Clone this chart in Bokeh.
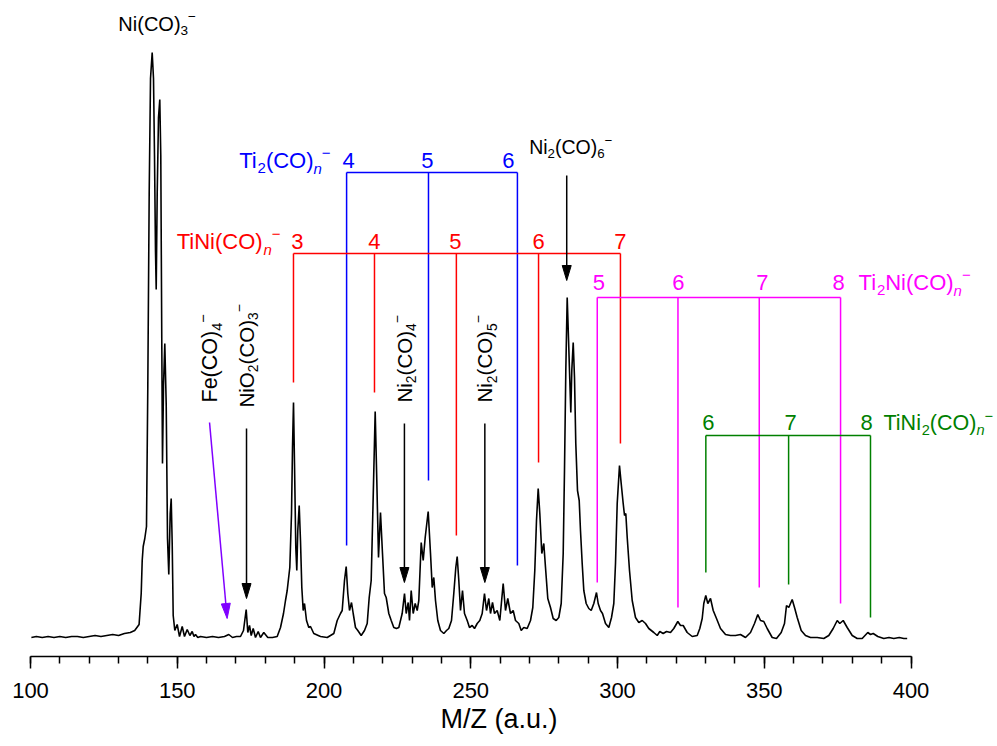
import math
from bokeh.plotting import figure
from bokeh.models import Range1d, FixedTicker, ColumnDataSource
from bokeh.core.properties import value
from bokeh.embed import file_html
from bokeh.resources import INLINE

# ---------------- data ----------------
mz = [100.3, 102.0, 104.0, 106.0, 108.0, 110.0, 112.0, 114.0, 116.0, 118.0, 120.0, 122.0, 124.0,
      126.0, 128.0, 130.0, 132.0, 134.0, 135.5, 137.0,
      137.72, 138.06, 138.40, 138.94, 139.52, 139.97, 140.44, 140.89, 141.46, 141.91, 142.25, 142.59,
      142.83, 143.17, 143.61, 144.05, 144.39, 144.74, 144.97, 145.32, 145.76, 146.24, 146.68, 147.12,
      147.60, 147.94, 148.28, 148.62, 149.17, 149.98, 150.77, 151.69, 152.47, 153.39, 154.3, 155.09,
      155.7, 156.22, 157.0, 157.92, 159.97, 162.01, 164.05, 166.10, 167.56, 168.82, 170.19, 171.55,
      172.57, 173.49, 174.04, 174.62, 175.20, 175.88, 176.66, 177.58, 178.36, 179.49, 180.85, 182.45,
      184.05, 185.18, 186.20, 186.88, 187.46, 188.35, 188.93, 189.27, 189.61, 189.95, 190.39, 190.73,
      191.07, 191.55, 191.99, 192.44, 192.91, 193.36, 194.04, 194.82, 195.40, 196.52, 198.81, 201.09,
      203.34, 204.50, 205.62, 206.20, 206.98, 207.56, 208.11, 208.69, 209.37, 209.95, 210.73, 211.52,
      212.67, 213.80, 214.72, 215.40, 216.08, 216.63, 217.44, 217.99, 218.57, 219.25, 219.93, 220.61,
      221.19, 222.08, 222.90, 223.78, 224.70, 225.49, 226.64, 227.43, 228.01, 228.69, 229.13, 229.71,
      230.39, 231.07, 231.76, 232.30, 233.12, 233.80, 234.48, 235.50, 236.29, 236.87, 237.41, 237.99,
      238.77, 239.69, 240.82, 241.74, 242.52, 243.44, 244.22, 244.91, 245.38, 245.93, 246.51, 247.19,
      247.87, 248.79, 249.57, 250.49, 251.28, 252.20, 253.08, 253.90, 254.68, 255.37, 256.15, 256.73,
      257.41, 258.09, 259.01, 259.90, 261.05, 261.84, 262.62, 263.54, 264.46, 265.25, 266.37, 267.19,
      268.07, 269.23, 270.36, 271.14, 271.82, 272.40, 272.98, 273.53, 274.21, 274.89, 275.47, 276.25,
      277.17, 278.09, 279.11, 280.00, 280.82, 281.50, 281.94, 282.39, 282.86, 283.30, 283.75, 284.09,
      284.43, 284.91, 285.35, 285.79, 286.37, 286.95, 287.39, 287.97, 288.52, 289.33, 290.22, 291.04,
      291.93, 292.84, 293.42, 294.21, 294.89, 295.91, 297.04, 297.96, 298.74, 299.32, 299.90, 300.68,
      301.26, 301.94, 302.39, 302.83, 303.31, 304.09, 305.01, 306.13, 307.26, 308.42, 309.54, 310.66,
      312.37, 313.53, 314.41, 315.57, 316.70, 318.06, 319.18, 320.55, 321.47, 322.38, 323.75, 325.45,
      327.16, 328.04, 328.86, 329.40, 330.08, 330.77, 331.69, 332.61, 333.73, 335.09, 336.80, 338.50,
      340.20, 341.91, 343.61, 345.32, 346.68, 347.80, 348.72, 349.85, 351.00, 352.71, 354.17, 355.78,
      356.90, 357.58, 358.36, 359.52, 360.31, 361.23, 362.59, 364.05, 365.76, 368.04, 370.29, 371.99,
      373.49, 374.86, 375.74, 376.90, 378.26, 379.97, 381.67, 383.37, 385.28, 386.20, 387.12, 388.69,
      390.73, 392.5, 394.14, 396.0, 397.55, 398.70]
intensity = [1, 2, 1, 2, 1, 2, 1, 2, 2, 1, 2, 3, 2,
             3, 4, 3, 5, 6, 8, 14,
             45, 78, 92, 100, 112, 253, 445, 560, 586, 560, 483, 387,
             349, 445, 521, 539, 483, 292, 175, 253, 295, 234, 100, 64,
             125, 140, 95, 23, 8, 14, 2, 12, 2, 9, 3, 7,
             2, 4, 1, 2, 1, 2, 1, 2, 4, 1, 2, 2,
             8, 29, 6, 13, 3, 10, 1, 7, 1, 6, 1, 1,
             2, 11, 25, 38, 48, 71, 125, 191, 236, 175, 91, 68,
             108, 133, 98, 51, 28, 35, 18, 11, 12, 5, 2, 1,
             5, 18, 25, 28, 58, 72, 45, 28, 36, 25, 11, 8,
             3, 8, 15, 41, 58, 125, 227, 158, 81, 126, 85, 45,
             41, 25, 18, 11, 10, 11, 25, 45, 25, 36, 18, 48,
             25, 35, 28, 38, 96, 78, 101, 127, 85, 51, 61, 38,
             18, 8, 5, 8, 10, 18, 45, 71, 82, 58, 28, 48,
             25, 18, 11, 13, 10, 15, 18, 25, 45, 28, 40, 25,
             36, 25, 28, 18, 55, 28, 40, 25, 28, 18, 15, 8,
             11, 10, 18, 31, 68, 118, 150, 125, 85, 95, 71, 40,
             31, 20, 18, 21, 35, 85, 168, 268, 341, 301, 258, 226,
             268, 296, 261, 195, 148, 138, 108, 75, 48, 35, 30, 28,
             35, 46, 35, 28, 25, 15, 11, 21, 35, 75, 135, 173,
             155, 135, 123, 125, 101, 68, 38, 21, 16, 18, 15, 10,
             6, 3, 7, 5, 7, 6, 10, 17, 13, 13, 6, 2,
             3, 10, 20, 35, 43, 35, 40, 28, 20, 10, 4, 3,
             3, 4, 1, 6, 15, 24, 18, 17, 10, 1, 0, 6,
             15, 33, 31, 39, 31, 21, 8, 3, 1, 1, 0, 3,
             10, 18, 15, 18, 11, 3, 0, 0, 6, 4, 5, 2,
             0, 1, 0, 1, 0, 0]

x_major_ticks = [100, 150, 200, 250, 300, 350, 400]
x_minor_ticks = list(range(100, 401, 10))

# TiNi(CO)n- series
tini_n = [3, 4, 5, 6, 7]
tini_mz = [189.6, 217.2, 245.1, 273.1, 301.0]
tini_end = [256, 246, 103, 176, 195]
tini_bar = 385
# Ti2(CO)n- series
ti2_n = [4, 5, 6]
ti2_mz = [207.7, 235.6, 265.9]
ti2_end = [93, 158, 73]
ti2_bar = 466
# Ti2Ni(CO)n- series
ti2ni_n = [5, 6, 7, 8]
ti2ni_mz = [293.1, 320.6, 348.3, 376.0]
ti2ni_end = [56, 31, 51, 35]
ti2ni_bar = 341
# TiNi2(CO)n- series
tini2_n = [6, 7, 8]
tini2_mz = [330.1, 358.3, 386.2]
tini2_end = [66, 54, 21]
tini2_bar = 203

# single-species arrows: NiO2(CO)3-, Ni2(CO)4-, Ni2(CO)5-, Ni2(CO)6-
arrow_mz = [173.6, 227.4, 254.8, 282.7]
arrow_top = [210, 215, 215, 463]
arrow_tip = [40, 56, 56, 358]
# Fe(CO)4- slanted arrow (start, tip)
fe_arrow_mz = [161.0, 167.0]
fe_arrow_int = [216, 20]

# ---------------- layout / style ----------------
SCALE_X = 2.935            # px per m/z unit
FRAME_W, FRAME_H = 997, 656
X0 = 100 - 30 / SCALE_X
X1 = X0 + FRAME_W / SCALE_X
Y0, Y1 = -18, 638
PXX = FRAME_W / (X1 - X0)
PXY = FRAME_H / (Y1 - Y0)

FONT = "Liberation Sans"
FS = 22
FS_BLACK = 20.5
SUBR = 0.68
SUB_DROP = 0.23
SUP_RISE = 0.45
BFIX = 0.3465              # baseline correction (fraction of font size)
RED, BLUE, MAG, GREEN, PURPLE = "#FF0000", "#0000FF", "#FF00FF", "#008000", "#8000FF"

WID = {'T': 611, 'i': 222, 'N': 722, '(': 333, ')': 333, 'C': 722, 'O': 778, 'F': 611,
       'e': 556, 'n': 556, '\u2212': 584}


def text_width(s, size):
    return sum(WID.get(c, 556) for c in s) * size / 1000.0


p = figure(frame_width=FRAME_W, frame_height=FRAME_H,
           x_range=Range1d(X0, X1), y_range=Range1d(Y0, Y1),
           output_backend="svg", toolbar_location=None,
           y_axis_location=None,
           min_border_left=0, min_border_right=0, min_border_top=0, min_border_bottom=0)
p.outline_line_color = None
p.grid.visible = False
p.background_fill_color = "white"

ax = p.xaxis[0]
ax.bounds = (100, 400)
ax.ticker = FixedTicker(ticks=x_major_ticks, minor_ticks=x_minor_ticks)
ax.axis_line_width = 1.5
ax.major_tick_line_width = 1.5
ax.minor_tick_line_width = 1.5
ax.major_tick_in = 0
ax.major_tick_out = 12
ax.minor_tick_in = 0
ax.minor_tick_out = 7
ax.major_label_text_font = FONT
ax.major_label_text_font_size = "22px"
ax.major_label_text_color = "black"
ax.major_label_standoff = 14
ax.axis_label = "M/Z (a.u.)"
ax.axis_label_text_font = FONT
ax.axis_label_text_font_size = "27px"
ax.axis_label_text_font_style = "normal"
ax.axis_label_text_color = "black"
ax.axis_label_standoff = 3

# spectrum
src = ColumnDataSource(dict(mz=mz, intensity=intensity))
p.line(x="mz", y="intensity", source=src, line_color="black", line_width=1.6)


def rich(x, y, parts, color, size=FS, vertical=False, align="left"):
    adv = 0.0
    pieces = []
    for txt, kind in parts:
        s = size if kind == "n" else size * SUBR
        if kind == "n":
            sh = 0.0
        elif kind in ("sub", "subi"):
            sh = -SUB_DROP * size
        else:
            sh = SUP_RISE * size
        sh += BFIX * s
        pieces.append((txt, kind, s, adv, sh))
        adv += text_width(txt, s)
    off = {"left": 0.0, "center": -adv / 2, "right": -adv}[align]
    ang = math.pi / 2 if vertical else 0.0
    for txt, kind, s, a, sh in pieces:
        a += off
        if vertical:
            dx, dy = -sh, a
        else:
            dx, dy = a, sh
        p.text(x=[x + dx / PXX], y=[y + dy / PXY], text=[txt], angle=ang,
               text_align="left", text_baseline="alphabetic", text_color=color,
               text_font=value(FONT), text_font_size=f"{s:.1f}px",
               text_font_style="italic" if kind == "subi" else "normal")


def arrow(x0, y0, x1, y1, color, L=15.0, HW=4.5, lw=1.5):
    dxp = (x1 - x0) * PXX
    dyp = (y1 - y0) * PXY
    d = math.hypot(dxp, dyp)
    ux, uy = dxp / d, dyp / d
    bx, by = x1 - ux * L / PXX, y1 - uy * L / PXY
    nx, ny = -uy, ux
    p.segment(x0=[x0], y0=[y0], x1=[bx + ux * 2 / PXX], y1=[by + uy * 2 / PXY],
              line_color=color, line_width=lw)
    p.patch(x=[x1, bx + nx * HW / PXX, bx - nx * HW / PXX],
            y=[y1, by + ny * HW / PXY, by - ny * HW / PXY],
            fill_color=color, line_color=color, line_width=1)


def series(ns, mzs, ends, bar, color, nudges, gap):
    p.segment(x0=mzs, y0=ends, x1=mzs, y1=[bar] * len(mzs), line_color=color, line_width=1.5)
    p.segment(x0=[min(mzs)], y0=[bar], x1=[max(mzs)], y1=[bar], line_color=color, line_width=1.5)
    p.text(x=[m + d / PXX for m, d in zip(mzs, nudges)],
           y=[bar + (gap + BFIX * FS) / PXY] * len(mzs),
           text=[str(n) for n in ns], text_align="center", text_baseline="alphabetic",
           text_color=color, text_font=value(FONT), text_font_size=f"{FS}px")


series(ti2_n, ti2_mz, ti2_end, ti2_bar, BLUE, [2, -1, -9], 4)
series(tini_n, tini_mz, tini_end, tini_bar, RED, [4, 0, -1, 0, 0], 4)
series(ti2ni_n, ti2ni_mz, ti2ni_end, ti2ni_bar, MAG, [1.5, 0.5, 3, -2], 7)
series(tini2_n, tini2_mz, tini2_end, tini2_bar, GREEN, [2.5, 2, -4], 5)

rich(ti2_mz[0] - 16 / PXX, ti2_bar + 4 / PXY,
     [("Ti", "n"), ("2", "sub"), ("(CO)", "n"), ("n", "subi"), ("\u2212", "sup")], BLUE, align="right")
rich(tini_mz[0] - 13 / PXX, tini_bar + 4 / PXY,
     [("TiNi(CO)", "n"), ("n", "subi"), ("\u2212", "sup")], RED, align="right")
rich(ti2ni_mz[-1] + 18 / PXX, ti2ni_bar + 7 / PXY,
     [("Ti", "n"), ("2", "sub"), ("Ni(CO)", "n"), ("n", "subi"), ("\u2212", "sup")], MAG, align="left")
rich(tini2_mz[-1] + 13 / PXX, tini2_bar + 5 / PXY,
     [("TiNi", "n"), ("2", "sub"), ("(CO)", "n"), ("n", "subi"), ("\u2212", "sup")], GREEN,
     size=21.5, align="left")

# arrows
for m, t0, t1 in zip(arrow_mz, arrow_top, arrow_tip):
    arrow(m, t0, m, t1, "black")
arrow(fe_arrow_mz[0], fe_arrow_int[0], fe_arrow_mz[1], fe_arrow_int[1], PURPLE)

labels_rot = [
    [("NiO", "n"), ("2", "sub"), ("(CO)", "n"), ("3", "sub"), ("\u2212", "sup")],
    [("Ni", "n"), ("2", "sub"), ("(CO)", "n"), ("4", "sub"), ("\u2212", "sup")],
    [("Ni", "n"), ("2", "sub"), ("(CO)", "n"), ("5", "sub"), ("\u2212", "sup")],
]
for m, t0, parts in zip(arrow_mz[:3], arrow_top[:3], labels_rot):
    rich(m + 7 / PXX, t0 + 21 / PXY, parts, "black", size=FS_BLACK, vertical=True)
rich(fe_arrow_mz[0] + 8 / PXX, fe_arrow_int[0] + 20 / PXY,
     [("Fe(CO)", "n"), ("4", "sub"), ("\u2212", "sup")], "black", size=21.5, vertical=True)
rich(arrow_mz[3] + 4 / PXX, arrow_top[3] + 22 / PXY,
     [("Ni", "n"), ("2", "sub"), ("(CO)", "n"), ("6", "sub"), ("\u2212", "sup")], "black",
     size=19.5, align="center")

# Ni(CO)3- label over the main peak
imax = intensity.index(max(intensity))
rich(mz[imax] + 5 / PXX, intensity[imax] + 22 / PXY,
     [("Ni(CO)", "n"), ("3", "sub"), ("\u2212", "sup")], "black", size=20, align="center")

open("out.html", "w").write(file_html(p, INLINE))
